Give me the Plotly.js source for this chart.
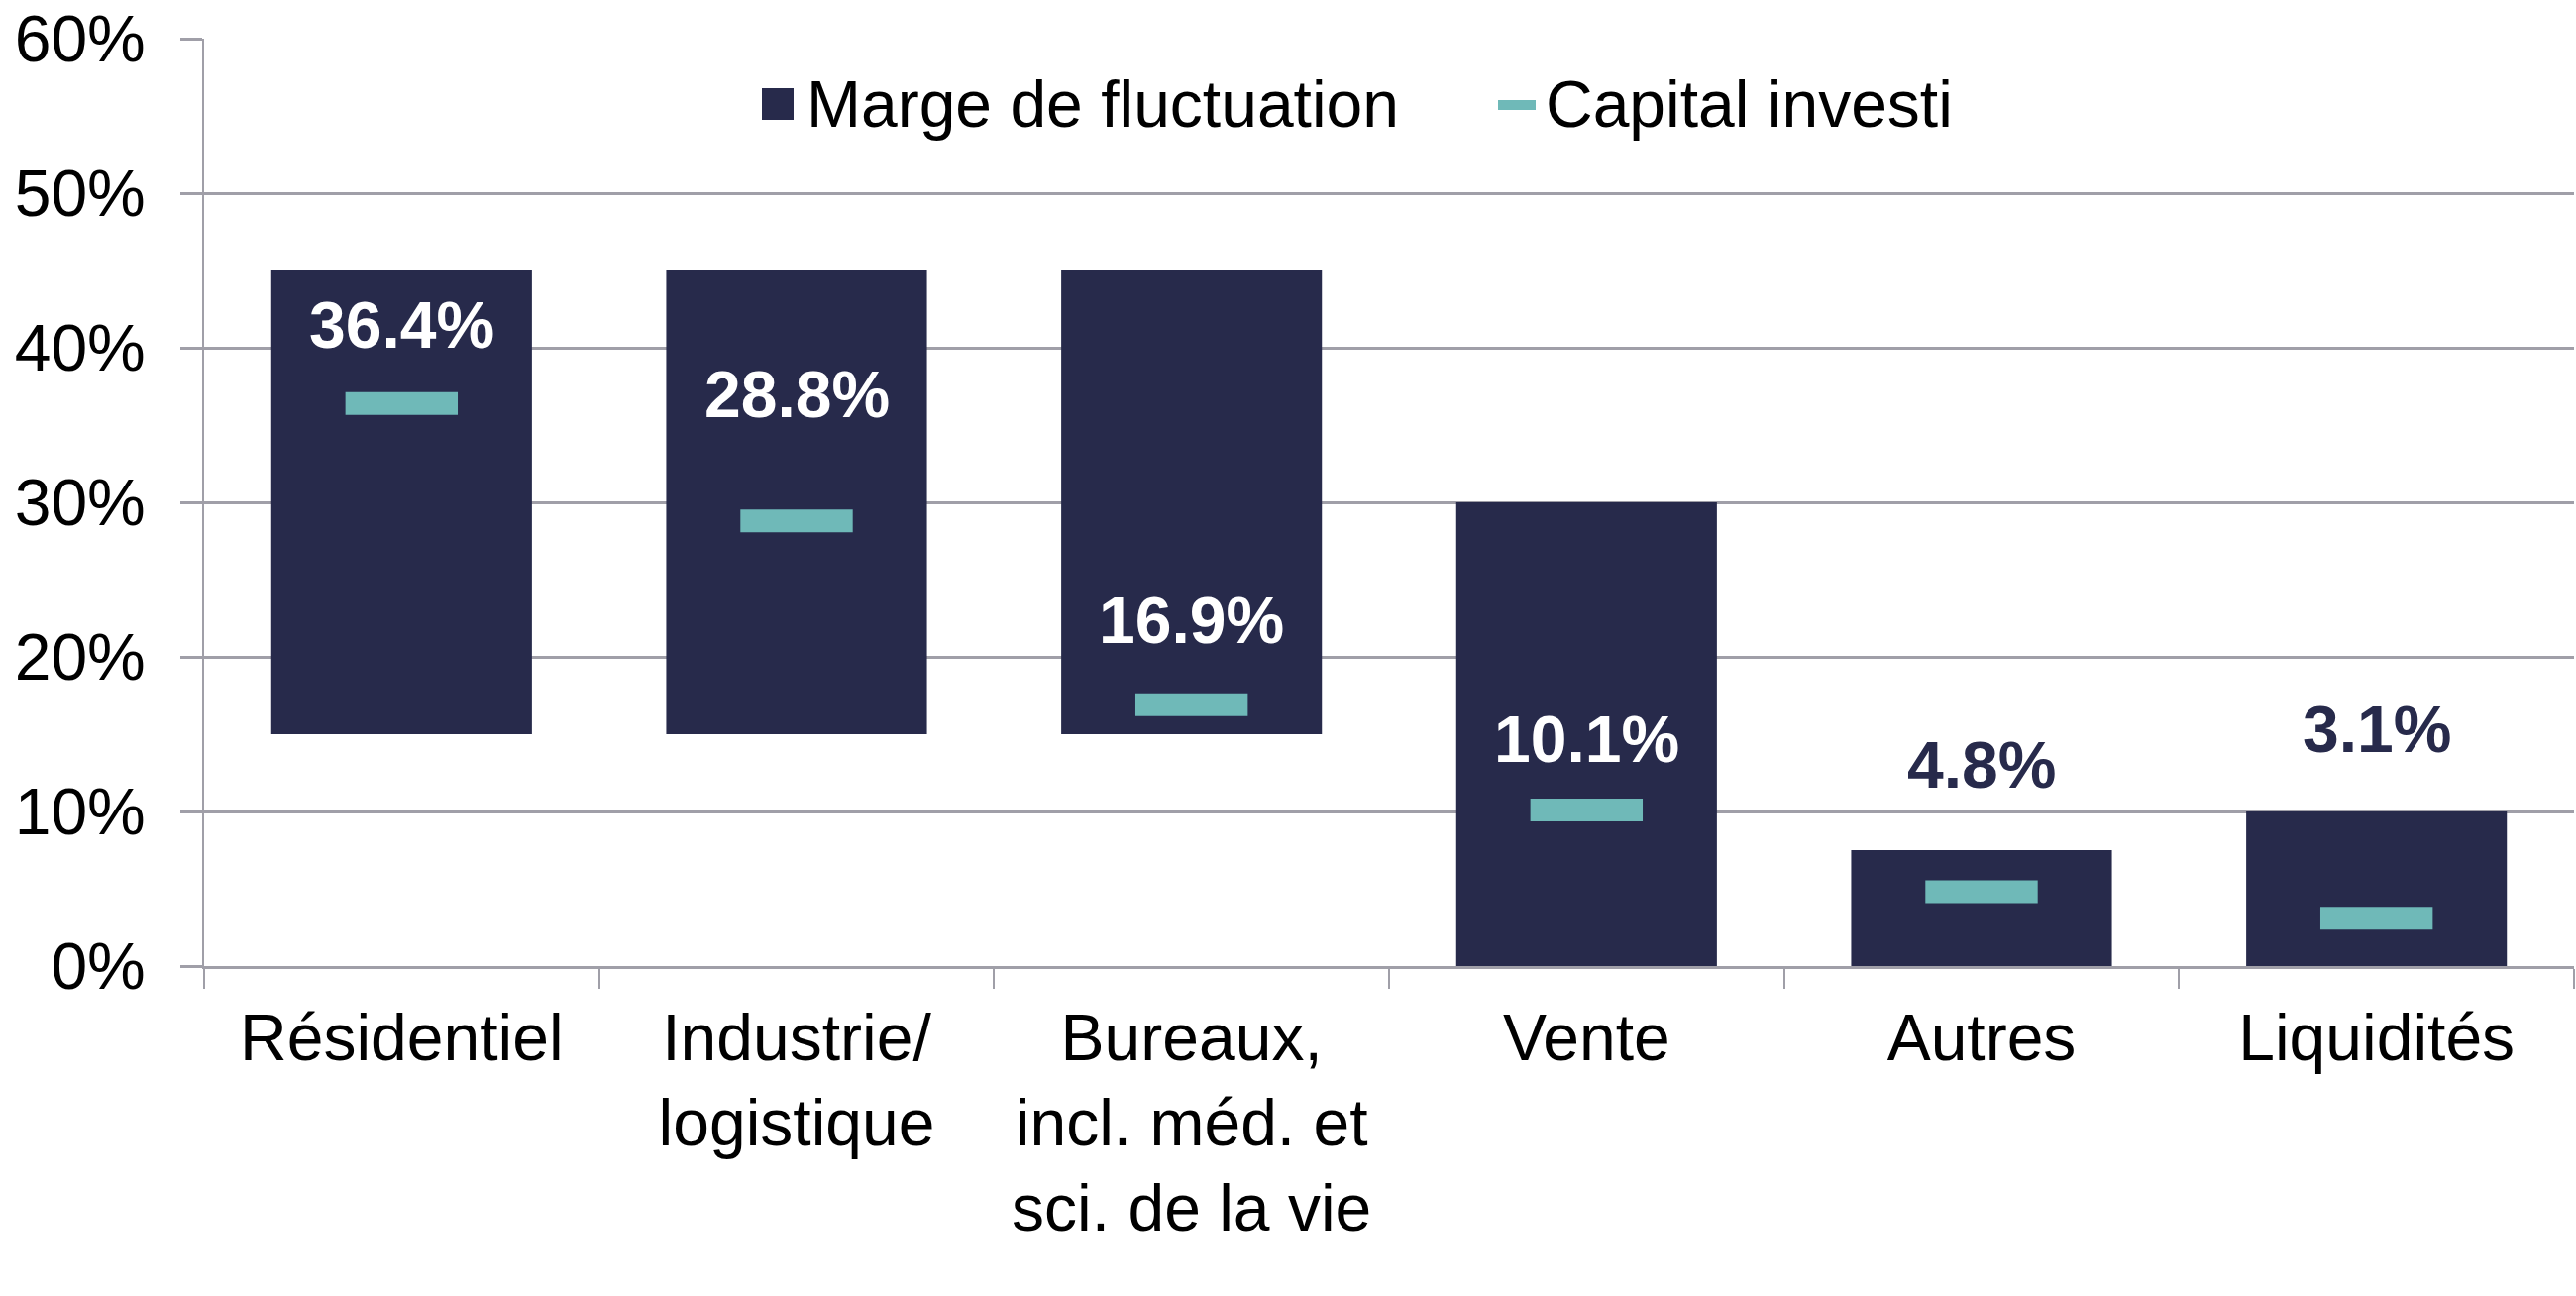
<!DOCTYPE html>
<html>
<head>
<meta charset="utf-8">
<script src="https://cdn.plot.ly/plotly-3.0.1.min.js"></script>
<style>html,body{margin:0;padding:0;background:#fff;}#chart{width:2600px;height:1308px;}</style>
</head>
<body>
<div id="chart"></div>
<script>
var categories = ["Résidentiel", "Industrie/<br>logistique", "Bureaux,<br>incl. méd. et<br>sci. de la vie", "Vente", "Autres", "Liquidités"];
var rangeLow = [15, 15, 15, 0, 0, 0];
var rangeHigh = [45, 45, 45, 30, 7.5, 10];
var capital = [36.4, 28.8, 16.9, 10.1, 4.8, 3.1];
var labelY = [41.5, 37.0, 22.4, 14.7, 13.0, 15.3];
var seriesNames = ["Marge de fluctuation", "Capital investi"];

var NAVY = "#272a4b", TEAL = "#6fb9b8", GRID = "#a09fa8";
var FONT = "Liberation Sans, Arial, sans-serif";

var traces = [
  {
    type: "bar", x: categories, base: rangeLow,
    y: rangeHigh.map(function (h, i) { return h - rangeLow[i]; }),
    marker: {color: NAVY}, name: seriesNames[0], hoverinfo: "skip"
  },
  {
    type: "scatter", mode: "markers", x: categories, y: capital,
    marker: {symbol: "line-ew", size: 81, color: TEAL, line: {color: TEAL, width: 23}},
    name: seriesNames[1], hoverinfo: "skip"
  }
];

var annotations = categories.map(function (c, i) {
  var inside = labelY[i] < rangeHigh[i];
  return {
    x: c, y: labelY[i], xref: "x", yref: "y", showarrow: false,
    text: "<b>" + capital[i].toFixed(1) + "%</b>",
    font: {family: FONT, size: 66, color: inside ? "#ffffff" : NAVY}
  };
});

// custom legend (paper coordinates)
var PL = 206, PW = 2392, PB = 975, PH = 936;
function px(x) { return (x - PL) / PW; }
function py(y) { return (PB - y) / PH; }
annotations.push({xref: "paper", yref: "paper", x: px(812), y: py(105), xanchor: "left", yanchor: "middle",
  showarrow: false, text: seriesNames[0], font: {family: FONT, size: 66, color: "#000"}});
annotations.push({xref: "paper", yref: "paper", x: px(1558), y: py(105), xanchor: "left", yanchor: "middle",
  showarrow: false, text: seriesNames[1], font: {family: FONT, size: 66, color: "#000"}});

var shapes = [
  {type: "rect", xref: "paper", yref: "paper", x0: px(769), x1: px(801), y0: py(121), y1: py(89),
   fillcolor: NAVY, line: {width: 0}},
  {type: "rect", xref: "paper", yref: "paper", x0: px(1512), x1: px(1550), y0: py(111), y1: py(101),
   fillcolor: TEAL, line: {width: 0}},
  {type: "line", xref: "paper", yref: "paper", x0: 0, x1: 0, y0: 0, y1: py(995),
   line: {color: GRID, width: 2}}
];

var layout = {
  width: 2600, height: 1308,
  margin: {l: 206, r: 2, t: 39, b: 333},
  paper_bgcolor: "#fff", plot_bgcolor: "#fff",
  showlegend: false,
  bargap: 0.34,
  font: {family: FONT, size: 66, color: "#000"},
  xaxis: {
    type: "category", range: [-0.5, 5.5], tickson: "boundaries",
    ticks: "outside", ticklen: 20, tickwidth: 2, tickcolor: GRID,
    showline: true, linecolor: GRID, linewidth: 3, showgrid: false,
    ticklabelstandoff: 13,
    tickfont: {family: FONT, size: 66, color: "#000"}
  },
  yaxis: {
    range: [0, 60], dtick: 10, ticksuffix: "%",
    ticks: "outside", ticklen: 22, tickwidth: 3, tickcolor: GRID,
    showline: true, linecolor: GRID, linewidth: 2,
    showgrid: true, gridcolor: GRID, gridwidth: 3, zeroline: false,
    ticklabelstandoff: 22,
    tickfont: {family: FONT, size: 66, color: "#000"}
  },
  annotations: annotations,
  shapes: shapes
};

Plotly.newPlot("chart", traces, layout, {staticPlot: true, displayModeBar: false});
</script>
</body>
</html>
